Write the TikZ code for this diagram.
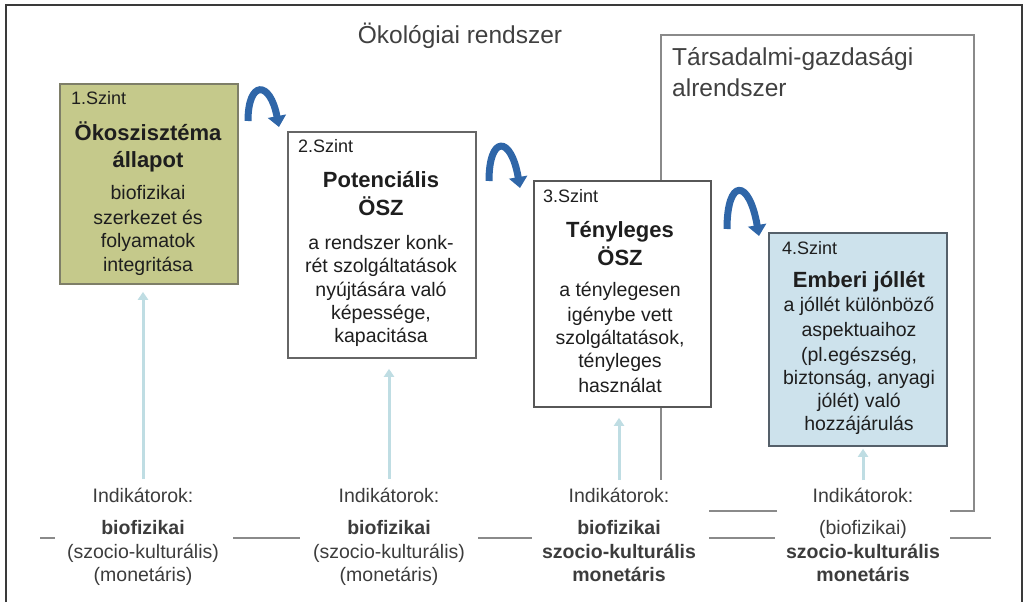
\documentclass[tikz,border=0pt]{standalone}
\usepackage{fontspec}
\setmainfont{Liberation Sans}
\usetikzlibrary{arrows.meta}
\definecolor{framec}{HTML}{3A3A3A}
\definecolor{graylin}{HTML}{8A8A8A}
\definecolor{boxline}{HTML}{666666}
\definecolor{olivefill}{HTML}{C5C98B}
\definecolor{olivebd}{HTML}{7E7E68}
\definecolor{bluefill}{HTML}{CDE2EC}
\definecolor{bluebd}{HTML}{55606A}
\definecolor{arrblue}{HTML}{2F66A8}
\definecolor{uparr}{HTML}{BFDDE3}
\definecolor{txt}{HTML}{1E1E1E}
\definecolor{indtxt}{HTML}{3C3C3C}
\begin{document}
\begin{tikzpicture}[x=1pt,y=-1pt,
  box/.style={draw=boxline, line width=1.8pt, inner sep=0pt, anchor=north west},
  szint/.style={inner sep=0pt, anchor=west, text=txt, font=\fontsize{18}{20}\selectfont, text height=12.6pt, text depth=3.6pt},
  ttl/.style={inner sep=0pt, text=txt, font=\bfseries\fontsize{22}{26}\selectfont, text height=15.4pt, text depth=4.4pt},
  body/.style={inner sep=0pt, text=txt, font=\fontsize{19.5}{23}\selectfont, text height=13.7pt, text depth=3.9pt},
  ind/.style={inner sep=0pt, text=indtxt, font=\fontsize{19.5}{23}\selectfont, text height=13.7pt, text depth=3.9pt},
  big/.style={inner sep=0pt, text=txt!85, font=\fontsize{24.5}{28}\selectfont, text height=17pt, text depth=5pt},
  grayline/.style={draw=graylin, line width=2.5pt},
  curv/.style={draw=arrblue, line width=7pt, -{Triangle[width=18pt,length=11pt]}},
  uparrow/.style={draw=uparr, line width=3pt, -{Triangle[width=10pt,length=8pt]}}
]
\useasboundingbox (0,0) rectangle (1027,602);
% outer frame
\draw[draw=framec, line width=2pt] (6,602) -- (6,5) -- (1022,5) -- (1022,602);

% titles
\node[big] (eco) at (460,37.5) {Ökológiai rendszer};
\node[big, anchor=west] (tg1) at (672,59) {Társadalmi-gazdasági};
\node[big, anchor=west] (tg2) at (672,90) {alrendszer};

% socio-economic subsystem frame
\draw[grayline] (661,180) -- (661,35) -- (974,35) -- (974,511) -- (950,511);
\draw[grayline] (777,511) -- (709,511);
\draw[grayline] (661,406) -- (661,480);

% baseline segments
\draw[grayline] (40,538) -- (55,538);
\draw[grayline] (233,538) -- (300,538);
\draw[grayline] (478,538) -- (532,538);
\draw[grayline] (709,538) -- (775,538);
\draw[grayline] (950,538) -- (991,538);

% boxes
\node[box, draw=olivebd, fill=olivefill, minimum width=178pt, minimum height=200pt] (b1) at (59,83) {};
\node[box, fill=white, minimum width=188pt, minimum height=226pt] (b2) at (287,131) {};
\node[box, draw=boxline!85!black, fill=white, minimum width=177pt, minimum height=226pt] (b3) at (533,180) {};
\node[box, draw=bluebd, fill=bluefill, minimum width=178pt, minimum height=213pt] (b4) at (768,232) {};

% box 1
\node[szint] (s1) at (71,100) {1.Szint};
\node[ttl] (t1a) at (148,135) {Ökoszisztéma};
\node[ttl] (t1b) at (148,162) {állapot};
\foreach \y/\t [count=\i] in {195/biofizikai, {220/szerkezet és}, 243/folyamatok, 267/integritása}
  \node[body] (p1-\i) at (148,\y) {\t};

% box 2
\node[szint] (s2) at (298,148) {2.Szint};
\node[ttl] (t2a) at (381,182) {Potenciális};
\node[ttl] (t2b) at (381,210) {ÖSZ};
\foreach \y/\t [count=\i] in {{245/a rendszer konk-}, {268/rét szolgáltatások}, {292/nyújtására való}, {315/képessége,}, 338/kapacitása}
  \node[body] (p2-\i) at (381,\y) {\t};

% box 3
\node[szint] (s3) at (543,198) {3.Szint};
\node[ttl] (t3a) at (620,232) {Tényleges};
\node[ttl] (t3b) at (620,260) {ÖSZ};
\foreach \y/\t [count=\i] in {{292/a ténylegesen}, {317/igénybe vett}, {340/szolgáltatások,}, 363/tényleges, 388/használat}
  \node[body] (p3-\i) at (620,\y) {\t};

% box 4
\node[szint] (s4) at (782,250) {4.Szint};
\node[ttl] (t4a) at (859,282) {Emberi jóllét};
\foreach \y/\t [count=\i] in {{307/a jóllét különböző}, 332/aspektuaihoz, {357/(pl.egészség,}, {380/biztonság, anyagi}, {403/jólét) való}, 426/hozzájárulás}
  \node[body] (p4-\i) at (859,\y) {\t};

% indicators
\node[ind] (i1) at (143,498) {Indikátorok:};
\node[ind] (i1b) at (143,530) {\textbf{biofizikai}};
\node[ind] (i1c) at (143,554) {(szocio-kulturális)};
\node[ind] (i1d) at (143,577) {(monetáris)};

\node[ind] (i2) at (389,498) {Indikátorok:};
\node[ind] (i2b) at (389,530) {\textbf{biofizikai}};
\node[ind] (i2c) at (389,554) {(szocio-kulturális)};
\node[ind] (i2d) at (389,577) {(monetáris)};

\node[ind] (i3) at (619,498) {Indikátorok:};
\node[ind] (i3b) at (619,530) {\textbf{biofizikai}};
\node[ind] (i3c) at (619,554) {\textbf{szocio-kulturális}};
\node[ind] (i3d) at (619,577) {\textbf{monetáris}};

\node[ind] (i4) at (863,498) {Indikátorok:};
\node[ind] (i4b) at (863,530) {(biofizikai)};
\node[ind] (i4c) at (863,554) {\textbf{szocio-kulturális}};
\node[ind] (i4d) at (863,577) {\textbf{monetáris}};

% up arrows
\draw[uparrow, shorten <=10pt, shorten >=7pt] (i1.north) -- (i1.north |- b1.south);
\draw[uparrow, shorten <=10pt, shorten >=10pt] (i2.north) -- (i2.north |- b2.south);
\draw[uparrow, shorten <=9pt, shorten >=10pt] (i3.north) -- (i3.north |- b3.south);
\draw[uparrow, shorten <=9pt, shorten >=2pt] (i4.north) -- (i4.north |- b4.south);

% curved arrows between levels
\coordinate (c1s) at (248,121); \coordinate (c1e) at (279,127);
\coordinate (c2s) at (489,181); \coordinate (c2e) at (520,188);
\coordinate (c3s) at (727,229); \coordinate (c3e) at (759,236);
\draw[curv] (c1s) .. controls (248,80) and (270,80) .. (c1e);
\draw[curv] (c2s) .. controls (489,135) and (511,135) .. (c2e);
\draw[curv] (c3s) .. controls (727,178) and (749,178) .. (c3e);
\end{tikzpicture}
\end{document}
